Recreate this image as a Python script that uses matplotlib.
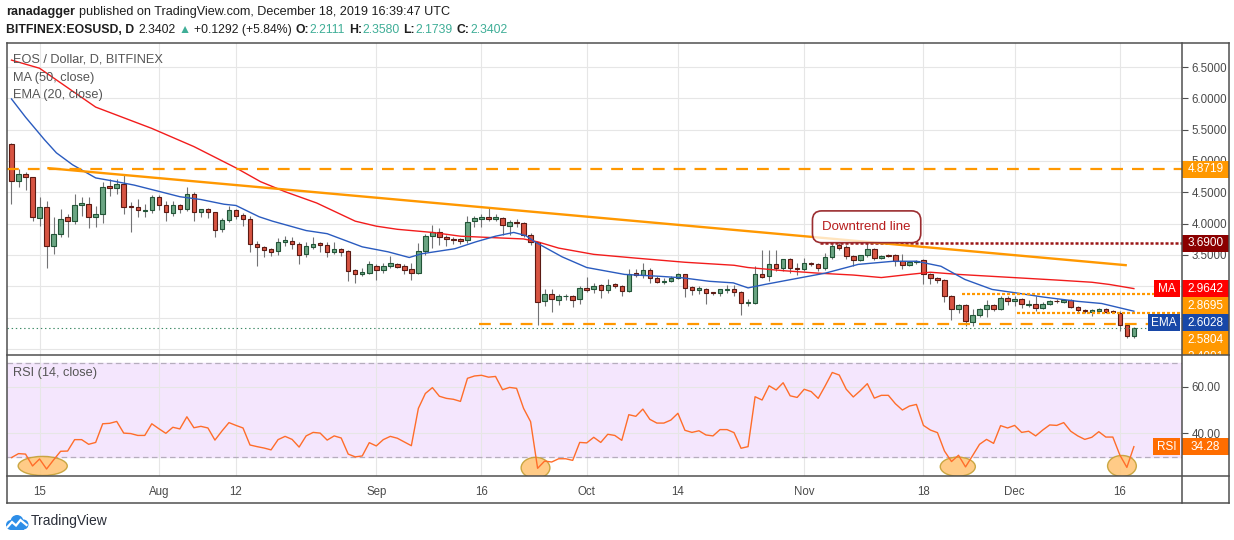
import matplotlib
matplotlib.use("Agg")
import matplotlib.pyplot as plt
import matplotlib.transforms as mtransforms
from matplotlib.patches import Rectangle, Ellipse, Circle
from matplotlib.lines import Line2D
import numpy as np

plt.rcParams['font.family'] = ['Liberation Sans', 'DejaVu Sans']
plt.rcParams['lines.scale_dashes'] = False

# ---- data (day index 0 = 2019-07-11, last = 2019-12-18) ----
opens = [5.27, 4.68, 4.80, 4.74, 4.09, 4.27, 3.65, 3.84, 4.10, 4.04,
         4.30, 4.32, 4.11, 4.16, 4.60, 4.57, 4.63, 4.28, 4.27, 4.20,
         4.21, 4.42, 4.30, 4.17, 4.29, 4.235, 4.47, 4.19, 4.24, 4.18,
         3.92, 4.06, 4.21, 4.14, 4.08, 3.68, 3.62, 3.59, 3.57, 3.70,
         3.73, 3.68, 3.52, 3.63, 3.69, 3.665, 3.55, 3.59, 3.56, 3.26,
         3.20, 3.22, 3.33, 3.26, 3.33, 3.36, 3.32, 3.27, 3.21, 3.57,
         3.80, 3.87, 3.78, 3.76, 3.75, 3.745, 4.035, 4.07, 4.10, 4.075,
         4.095, 3.97, 4.025, 4.015, 3.825, 3.70, 2.77, 2.885, 2.785, 2.84,
         2.845, 2.79, 2.98, 2.95, 3.02, 2.94, 3.03, 3.005, 2.92, 3.205,
         3.18, 3.26, 3.14, 3.065, 3.09, 3.125, 3.19, 2.99, 2.94, 2.96,
         2.905, 2.89, 2.945, 2.95, 2.905, 2.73, 2.73, 3.20, 3.16, 3.36,
         3.29, 3.43, 3.30, 3.27, 3.38, 3.35, 3.29, 3.465, 3.655, 3.635,
         3.48, 3.42, 3.495, 3.595, 3.45, 3.505, 3.495, 3.405, 3.34, 3.385,
         3.42, 3.20, 3.135, 3.10, 2.85, 2.64, 2.705, 2.435, 2.545, 2.64,
         2.705, 2.64, 2.815, 2.77, 2.80, 2.705, 2.72, 2.655, 2.715, 2.77,
         2.755, 2.775, 2.675, 2.63, 2.595, 2.61, 2.64, 2.60, 2.58, 2.38,
         2.2111]
highs = [5.28, 4.88, 4.82, 4.75, 4.42, 4.36, 4.11, 4.24, 4.15, 4.48,
         4.43, 4.42, 4.28, 4.67, 4.72, 4.72, 4.80, 4.34, 4.39, 4.31,
         4.45, 4.45, 4.36, 4.36, 4.31, 4.58, 4.50, 4.24, 4.25, 4.19,
         4.09, 4.28, 4.235, 4.17, 4.12, 3.73, 3.65, 3.61, 3.77, 3.80,
         3.79, 3.71, 3.70, 3.78, 3.71, 3.70, 3.71, 3.61, 3.58, 3.28,
         3.30, 3.41, 3.35, 3.38, 3.48, 3.37, 3.35, 3.38, 3.69, 3.84,
         3.98, 3.93, 3.82, 3.78, 3.77, 4.12, 4.12, 4.15, 4.25, 4.16,
         4.11, 4.06, 4.08, 4.025, 3.85, 3.71, 2.96, 2.96, 2.875, 2.87,
         2.86, 3.00, 3.15, 3.05, 3.04, 3.12, 3.055, 3.02, 3.28, 3.28,
         3.38, 3.29, 3.16, 3.13, 3.16, 3.21, 3.19, 3.01, 3.00, 2.975,
         2.905, 2.96, 3.02, 3.02, 2.92, 2.79, 3.32, 3.585, 3.585, 3.585,
         3.44, 3.45, 3.37, 3.45, 3.39, 3.37, 3.53, 3.67, 3.69, 3.665,
         3.505, 3.505, 3.685, 3.61, 3.505, 3.52, 3.52, 3.515, 3.405, 3.425,
         3.44, 3.21, 3.15, 3.12, 2.86, 2.725, 2.715, 2.64, 2.655, 2.78,
         2.725, 2.84, 2.85, 2.84, 2.815, 2.775, 2.85, 2.75, 2.78, 2.79,
         2.795, 2.79, 2.68, 2.645, 2.64, 2.655, 2.65, 2.63, 2.60, 2.40,
         2.3580]
lows = [4.32, 4.59, 4.53, 4.04, 3.96, 3.29, 3.51, 3.79, 3.79, 4.00,
        4.13, 3.93, 3.95, 4.01, 4.44, 4.48, 4.15, 3.87, 4.10, 4.11,
        4.17, 4.21, 4.04, 4.12, 4.17, 4.20, 4.04, 4.11, 4.09, 3.79,
        3.86, 4.02, 4.08, 3.96, 3.55, 3.32, 3.47, 3.48, 3.50, 3.64,
        3.59, 3.35, 3.46, 3.60, 3.55, 3.46, 3.52, 3.48, 3.09, 3.06,
        3.16, 3.19, 3.10, 3.21, 3.29, 3.30, 3.19, 3.10, 3.19, 3.50,
        3.61, 3.66, 3.645, 3.68, 3.68, 3.69, 3.95, 3.95, 4.04, 4.04,
        3.82, 3.82, 3.95, 3.79, 3.655, 2.38, 2.69, 2.595, 2.70, 2.78,
        2.675, 2.72, 2.91, 2.90, 2.81, 2.90, 2.975, 2.85, 2.91, 3.145,
        3.14, 3.055, 3.055, 3.045, 3.07, 3.11, 2.83, 2.86, 2.87, 2.71,
        2.86, 2.84, 2.90, 2.84, 2.54, 2.68, 2.71, 3.13, 3.08, 3.25,
        3.24, 3.22, 3.175, 3.24, 3.32, 3.25, 3.26, 3.43, 3.585, 3.44,
        3.32, 3.40, 3.47, 3.425, 3.435, 3.46, 3.33, 3.28, 3.32, 3.36,
        3.03, 3.03, 3.055, 2.75, 2.46, 2.58, 2.365, 2.365, 2.51, 2.51,
        2.61, 2.63, 2.695, 2.68, 2.66, 2.67, 2.60, 2.64, 2.695, 2.735,
        2.74, 2.66, 2.59, 2.58, 2.53, 2.59, 2.58, 2.58, 2.285, 2.17,
        2.1739]
closes = [4.68, 4.80, 4.74, 4.11, 4.27, 3.65, 3.84, 4.08, 4.04, 4.30,
          4.33, 4.11, 4.16, 4.59, 4.57, 4.63, 4.27, 4.26, 4.21, 4.21,
          4.43, 4.30, 4.18, 4.29, 4.235, 4.47, 4.19, 4.23, 4.18, 3.90,
          4.06, 4.21, 4.13, 4.075, 3.68, 3.63, 3.58, 3.55, 3.70, 3.74,
          3.68, 3.50, 3.65, 3.68, 3.665, 3.55, 3.59, 3.55, 3.25, 3.20,
          3.23, 3.35, 3.26, 3.33, 3.37, 3.31, 3.26, 3.21, 3.57, 3.80,
          3.87, 3.78, 3.755, 3.735, 3.72, 4.03, 4.085, 4.10, 4.075, 4.10,
          3.98, 4.02, 4.005, 3.825, 3.70, 2.755, 2.87, 2.79, 2.84, 2.842,
          2.785, 2.98, 2.94, 3.01, 2.94, 3.02, 3.00, 2.93, 3.19, 3.18,
          3.26, 3.13, 3.07, 3.09, 3.135, 3.19, 2.975, 2.94, 2.975, 2.89,
          2.89, 2.95, 2.955, 2.905, 2.73, 2.745, 3.20, 3.145, 3.36, 3.30,
          3.43, 3.29, 3.27, 3.38, 3.35, 3.29, 3.47, 3.645, 3.61, 3.48,
          3.42, 3.495, 3.595, 3.45, 3.49, 3.485, 3.405, 3.34, 3.395, 3.41,
          3.20, 3.13, 3.095, 2.85, 2.64, 2.705, 2.45, 2.545, 2.64, 2.705,
          2.64, 2.815, 2.77, 2.805, 2.71, 2.72, 2.655, 2.71, 2.76, 2.76,
          2.775, 2.675, 2.625, 2.60, 2.62, 2.645, 2.59, 2.585, 2.38, 2.2111,
          2.3402]

rsi = [29.6, 31.3, 31.1, 26.0, 29.0, 24.7, 28.6, 32.3, 32.4, 37.3,
       37.3, 35.3, 36.1, 44.1, 44.3, 45.1, 40.1, 39.9, 39.1, 39.1,
       44.1, 42.0, 40.0, 42.6, 41.9, 47.1, 42.4, 43.0, 42.3, 37.1,
       41.0, 44.6, 43.4, 42.3, 35.0, 34.3, 33.7, 32.9, 37.3, 38.7,
       37.4, 34.1, 38.9, 40.4, 40.1, 37.1, 38.9, 38.0, 31.1, 29.9,
       30.3, 36.0, 34.6, 37.3, 38.7, 37.9, 36.3, 34.7, 50.7, 57.1,
       59.6, 55.9, 55.0, 54.6, 53.7, 63.6, 64.6, 64.9, 64.1, 64.4,
       58.7, 59.7, 59.3, 50.7, 45.0, 25.0, 28.1, 27.7, 29.1, 29.1,
       28.4, 36.1, 35.9, 38.3, 36.1, 39.6, 39.1, 37.0, 48.0, 47.3,
       50.4, 46.0, 44.4, 44.4, 45.7, 48.6, 41.3, 40.4, 41.1, 39.3,
       38.9, 41.6, 41.6, 40.3, 33.6, 34.3, 55.7, 54.3, 60.4, 58.6,
       61.7, 56.1, 55.4, 58.9, 57.9, 55.0, 60.4, 66.1, 65.0, 58.9,
       55.6, 58.3, 61.3, 55.1, 56.3, 56.3, 52.7, 50.0, 51.7, 52.4,
       43.4, 41.4, 40.3, 32.4, 27.9, 30.6, 25.6, 30.4, 35.3, 37.4,
       35.7, 43.3, 42.3, 43.4, 40.4, 40.9, 38.9, 41.4, 43.6, 43.4,
       44.6, 40.9, 38.9, 37.4, 38.3, 40.7, 38.4, 38.4, 30.7, 25.4,
       34.28]

# moving averages as read at sample days
ma_days = [0, 4, 12, 20, 26, 32, 35.5, 39, 43.5, 49, 52, 55, 60, 64, 66, 70,
           73, 75, 78, 83, 89, 96, 103, 105, 110, 115, 120, 124, 128, 131,
           135, 142, 149, 154, 156.5, 160]
ma_vals = [6.61, 6.48, 5.86, 5.52, 5.23, 4.89, 4.67, 4.51, 4.33, 4.04, 3.96,
           3.91, 3.86, 3.80, 3.79, 3.77, 3.756, 3.71, 3.61, 3.51, 3.45, 3.384,
           3.336, 3.30, 3.25, 3.21, 3.18, 3.14, 3.19, 3.225, 3.19, 3.145, 3.10,
           3.065, 3.03, 2.964]
ema_days = [0, 2, 4.7, 6.4, 8.7, 12, 14.5, 17.5, 21.2, 24, 27, 30.3, 32, 35.3,
            37.2, 42, 45, 50, 53.7, 56.7, 58.5, 63.2, 66.2, 69, 71.6, 73.3,
            74.6, 78.5, 82, 87.4, 92.4, 95.7, 99.5, 102.9, 105, 107.4, 111.2,
            116, 120.7, 125.7, 129, 132.5, 135.9, 139.8, 143.2, 147, 152,
            155.4, 160]
ema_vals = [5.99, 5.70, 5.34, 5.13, 4.94, 4.73, 4.68, 4.615, 4.51, 4.43,
            4.385, 4.31, 4.29, 4.11, 4.04, 3.89, 3.84, 3.63, 3.55, 3.46, 3.52,
            3.60, 3.71, 3.80, 3.86, 3.81, 3.71, 3.47, 3.30, 3.19, 3.16, 3.135,
            3.08, 3.055, 2.975, 3.03, 3.11, 3.21, 3.35, 3.40, 3.40, 3.32, 3.11,
            2.95, 2.895, 2.83, 2.76, 2.726, 2.603]

tick_days = [4, 21, 32, 52, 67, 82, 95, 113, 130, 143, 158]
tick_labels = ['15', 'Aug', '12', 'Sep', '16', 'Oct', '14', 'Nov', '18', 'Dec', '16']
price_ticks = [2.0, 2.5, 3.0, 3.5, 4.0, 4.5, 5.0, 5.5, 6.0, 6.5]
hidden_ticks = [2.0, 2.5, 3.0]   # covered by the value tags in the original

# drawn levels: (price, first day)
resist_top = 4.8719
resist_mid = (3.6900, 115.3)
range_high = (2.8695, 135.5)
range_low = (2.5804, 143.4)
support = (2.4001, 66.6)
trend_days = [5.1, 159.0]
trend_vals = [4.887, 3.336]
last_ma, last_ema, last_rsi, last_close = 2.9642, 2.6028, 34.28, 2.3402
# (day, rsi, width in days, height in rsi)
rsi_circles = [(4.45, 26.0, 7.0, 8.2), (74.7, 25.2, 4.1, 9.0),
               (134.9, 25.7, 5.0, 8.2), (158.3, 26.0, 4.1, 9.0)]

# ---- layout (pixels of the 1234x540 picture) ----
W_PX, H_PX = 1234, 540
LEFT, PLOT_R, RIGHT = 6.7, 1182, 1228.5
TOP, SPLIT, RSI_B, BOTTOM = 43, 355, 476, 503
XLIM = (-0.684, 166.86)
PLIM = (1.904, 6.883)
RLIM = (21.7, 73.6)

ORANGE = '#ff9800'
DARKRED = '#8b0000'
MA_RED = '#f21c1c'
EMA_BLUE = '#2a5bbf'
RSI_COL = '#ff6d2a'
GRID = '#e6e6e6'
FRAME = '#4f4f4f'
AXTXT = '#4a4a4a'


def fx(px):
    return px / W_PX


def fy(py):
    return 1 - py / H_PX


fig = plt.figure(figsize=(W_PX / 100, H_PX / 100), dpi=100)
fig.patch.set_facecolor('white')

ax = fig.add_axes([fx(LEFT), fy(SPLIT), fx(PLOT_R) - fx(LEFT), fy(TOP) - fy(SPLIT)])
axr = fig.add_axes([fx(LEFT), fy(RSI_B), fx(PLOT_R) - fx(LEFT), fy(SPLIT) - fy(RSI_B)])

for a, lim in ((ax, PLIM), (axr, RLIM)):
    a.set_xlim(*XLIM)
    a.set_ylim(*lim)
    for s in a.spines.values():
        s.set_visible(False)
    a.set_axisbelow(True)
    a.set_xticks(tick_days)
    a.grid(True, color=GRID, lw=0.8)
    a.yaxis.tick_right()
    a.tick_params(axis='y', length=4, width=0.8, color=FRAME, labelcolor=AXTXT,
                  labelsize=8.3, pad=3)

ax.tick_params(axis='x', length=0, labelbottom=False)
ax.set_yticks(price_ticks)
ax.set_yticklabels(['' if v in hidden_ticks else f'{v:.4f}' for v in price_ticks])
axr.set_yticks([40, 60])
axr.set_yticklabels(['40.00', '60.00'])
axr.set_xticklabels(tick_labels)
axr.tick_params(axis='x', length=0, pad=7.5, labelsize=8.3, labelcolor=AXTXT)

# ---- candles ----
o = np.array(opens)
h = np.array(highs)
l = np.array(lows)
c = np.array(closes)
days = np.arange(len(c))
up = c >= o
ax.vlines(days, l, h, color='#737375', lw=0.8, zorder=2)
body = np.maximum(np.abs(c - o), 0.006)
ax.bar(days, body, bottom=np.minimum(o, c), width=0.64,
       color=np.where(up, '#6ba583', '#d75442'),
       edgecolor=np.where(up, '#225437', '#5b1a13'), linewidth=0.8, zorder=3)

ax.plot(ma_days, ma_vals, color=MA_RED, lw=1.0, zorder=4)
ax.plot(ema_days, ema_vals, color=EMA_BLUE, lw=1.0, zorder=4)

# ---- drawings ----
dash = (0, (8.5, 6.5))
dots = (0, (2.2, 1.4))
ax.axhline(last_close, color='#3d8a66', lw=0.8, ls=(0, (1, 2)), zorder=4)
ax.axhline(resist_top, color=ORANGE, lw=1.6, ls=dash, zorder=5)
ax.plot([support[1], XLIM[1]], [support[0]] * 2, color=ORANGE, lw=1.6, ls=dash, zorder=5)
ax.plot([range_high[1], XLIM[1]], [range_high[0]] * 2, color=ORANGE, lw=1.6, ls=dots, zorder=5)
ax.plot([range_low[1], XLIM[1]], [range_low[0]] * 2, color=ORANGE, lw=1.6, ls=dots, zorder=5)
ax.plot([resist_mid[1], XLIM[1]], [resist_mid[0]] * 2, color='#9a1515', lw=1.8, ls=dots, zorder=5)
ax.plot(trend_days, trend_vals, color=ORANGE, lw=1.7, solid_capstyle='butt', zorder=5)

ax.text(121.9, 3.95, 'Downtrend line', ha='center', va='center', fontsize=9.5,
        color='#b71c1c', zorder=6,
        bbox=dict(boxstyle='round,pad=0.75,rounding_size=0.7', fc=(1, 1, 1, 0.75),
                  ec='#9b2d30', lw=1.2))

# pane legends
leg_kw = dict(transform=ax.transAxes, ha='left', va='center', fontsize=9.2,
              color='#555555', zorder=7)
ax.text((13 - LEFT) / (PLOT_R - LEFT), 1 - (60 - TOP) / (SPLIT - TOP),
        'EOS / Dollar, D, BITFINEX', **leg_kw)
ax.text((13 - LEFT) / (PLOT_R - LEFT), 1 - (78 - TOP) / (SPLIT - TOP),
        'MA (50, close)', **leg_kw)
ax.text((13 - LEFT) / (PLOT_R - LEFT), 1 - (95 - TOP) / (SPLIT - TOP),
        'EMA (20, close)', **leg_kw)

# ---- RSI pane ----
axr.axhspan(30, 70, color='#f4e6fd', zorder=0)
for lvl in (30, 70):
    axr.axhline(lvl, color='#b5adbd', lw=0.9, ls=(0, (4, 2.5)), zorder=1)
for cx, cy, cw, ch in rsi_circles:
    axr.add_patch(Ellipse((cx, cy), cw, ch, fc='#ffc67a', ec='#c4a035',
                          lw=1.0, alpha=0.9, zorder=2))
axr.plot(days, rsi, color=RSI_COL, lw=1.0, zorder=3)
axr.text((13 - LEFT) / (PLOT_R - LEFT), 1 - (373 - SPLIT) / (RSI_B - SPLIT),
         'RSI (14, close)', **dict(leg_kw, transform=axr.transAxes))


# ---- price tags on the right scale ----
def tag_axes(bottom_px, top_px, lim):
    t = fig.add_axes([fx(PLOT_R), fy(bottom_px), fx(RIGHT) - fx(PLOT_R),
                      fy(top_px) - fy(bottom_px)])
    t.set_ylim(*lim)
    t.set_xlim(0, 1)
    t.axis('off')
    t.patch.set_visible(False)
    return t


def draw_tags(main, side, items, unit_px, fmt):
    box = 17 / unit_px
    prev = None
    trans_main = mtransforms.blended_transform_factory(main.transAxes, main.transData)
    for value, color, name, tag_left in items:
        pos = value if prev is None else min(value, prev - box)
        prev = pos
        side.add_patch(Rectangle((0, pos - box / 2), 1, box, fc=color, ec='none',
                                 clip_on=True, zorder=5))
        side.text(0.5, pos, fmt.format(value), ha='center', va='center',
                  color='white', fontsize=8.5, zorder=6, clip_on=True)
        if name:
            x0 = (tag_left - LEFT) / (PLOT_R - LEFT)
            x1 = (1180 - LEFT) / (PLOT_R - LEFT)
            main.add_patch(Rectangle((x0, pos - box / 2), x1 - x0, box, fc=color,
                                     ec='none', transform=trans_main, zorder=8))
            main.text((x0 + x1) / 2, pos, name, transform=trans_main, ha='center',
                      va='center', color='white', fontsize=8.5, zorder=9)


price_unit = (SPLIT - TOP) / (PLIM[1] - PLIM[0])
rsi_unit = (RSI_B - SPLIT) / (RLIM[1] - RLIM[0])
side_p = tag_axes(SPLIT, TOP, PLIM)
side_r = tag_axes(RSI_B, SPLIT, RLIM)
draw_tags(ax, side_p, [(resist_top, ORANGE, None, 0)], price_unit, '{:.4f}')
draw_tags(ax, side_p, [(resist_mid[0], DARKRED, None, 0)], price_unit, '{:.4f}')
draw_tags(ax, side_p, [(last_ma, '#ff0000', 'MA', 1154),
                       (range_high[0], ORANGE, None, 0),
                       (last_ema, '#1848a8', 'EMA', 1148),
                       (range_low[0], ORANGE, None, 0),
                       (support[0], ORANGE, None, 0)], price_unit, '{:.4f}')
draw_tags(axr, side_r, [(last_rsi, '#ff6d00', 'RSI', 1153)], rsi_unit, '{:.2f}')

# ---- frame ----
frame = [((LEFT, TOP), (RIGHT, TOP)), ((LEFT, BOTTOM), (RIGHT, BOTTOM)),
         ((LEFT, TOP), (LEFT, BOTTOM)), ((RIGHT, TOP), (RIGHT, BOTTOM)),
         ((PLOT_R, TOP), (PLOT_R, BOTTOM)), ((LEFT, SPLIT), (RIGHT, SPLIT)),
         ((LEFT, RSI_B), (RIGHT, RSI_B))]
for (x0, y0), (x1, y1) in frame:
    fig.add_artist(Line2D([fx(x0), fx(x1)], [fy(y0), fy(y1)], color=FRAME, lw=1.1,
                          transform=fig.transFigure, zorder=20))

# ---- header ----
renderer = fig.canvas.get_renderer()


def text_runs(x_px, y_px, runs, size):
    for txt, color, weight, gap in runs:
        t = fig.text(fx(x_px), fy(y_px), txt, fontsize=size, color=color,
                     fontweight=weight, ha='left', va='center')
        x_px += t.get_window_extent(renderer).width + gap


INK = '#1e1e1e'
TEAL = '#3fae97'
text_runs(6, 12, [('ranadagger', INK, 'bold', 4),
                  ('published on TradingView.com, December 18, 2019 16:39:47 UTC',
                   INK, 'normal', 0)], 9.1)
text_runs(6, 30, [('BITFINEX:EOSUSD, D', INK, 'bold', 4),
                  ('2.3402', INK, 'normal', 3),
                  ('\u25b2', TEAL, 'normal', 3),
                  ('+0.1292 (+5.84%)', INK, 'normal', 4),
                  ('O:', INK, 'bold', 0.5), ('2.2111', TEAL, 'normal', 4),
                  ('H:', INK, 'bold', 0.5), ('2.3580', TEAL, 'normal', 4),
                  ('L:', INK, 'bold', 0.5), ('2.1739', TEAL, 'normal', 4),
                  ('C:', INK, 'bold', 0.5), ('2.3402', TEAL, 'normal', 0)], 8.8)

# ---- TradingView logo ----
logo = fig.add_axes([fx(5), fy(531), fx(24), 20 / H_PX])
logo.set_xlim(0, 24)
logo.set_ylim(0, 20)
logo.axis('off')
for cxy, r in (((6, 6), 5), ((12, 9.5), 6.5), ((18.5, 6.5), 5)):
    logo.add_patch(Circle(cxy, r, fc='#2d8ee8', ec='none'))
logo.add_patch(Rectangle((6, 1), 12.5, 6, fc='#2d8ee8', ec='none'))
logo.plot([2.5, 7, 11, 15.5, 21.5], [4, 9, 5.5, 11, 6], color='white', lw=1.6,
          solid_joinstyle='miter')
fig.text(fx(31), fy(521), 'TradingView', fontsize=10, color='#2a2e39',
         ha='left', va='center')

fig.savefig('out.png', dpi=100, facecolor='white')
